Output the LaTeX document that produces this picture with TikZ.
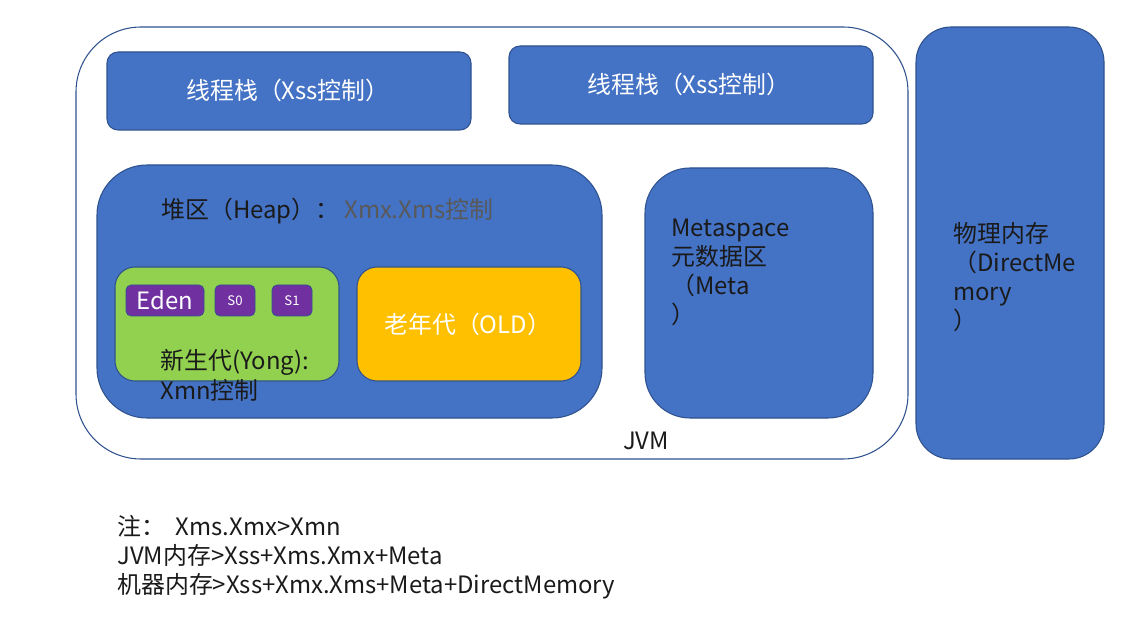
\documentclass[tikz,border=0pt]{standalone}
\usepackage{fontspec}
\setmainfont{Noto Sans CJK SC}
\usetikzlibrary{positioning}
\definecolor{boxblue}{HTML}{4472C4}
\definecolor{edgeblue}{HTML}{2F528F}
\definecolor{younggreen}{HTML}{92D050}
\definecolor{oldgold}{HTML}{FFC000}
\definecolor{edenpurple}{HTML}{7030A0}
\definecolor{notegray}{HTML}{595959}
\definecolor{inkblack}{HTML}{1A1A1A}

\begin{document}
\begin{tikzpicture}[x=0.02cm, y=-0.02cm,
  blk/.style={fill=boxblue, draw=edgeblue, line width=0.6pt},
  txt/.style={font=\fontsize{13.6}{16}\selectfont, inner sep=0pt, anchor=base west, color=inkblack},
  small/.style={font=\fontsize{7.5}{9}\selectfont, inner sep=0pt, color=white}]
  \useasboundingbox (0,0) rectangle (1148,641);
  % JVM outline
  \draw[draw=edgeblue, fill=white, line width=0.6pt, rounded corners=1.3cm] (76,27) rectangle (908,459);
  \node[txt, anchor=center] (jvm) at (646,441) {JVM};
  % thread stacks
  \draw[blk, rounded corners=0.22cm] (107,52) rectangle (471,130);
  \draw[blk, rounded corners=0.22cm] (509,46) rectangle (873,124);
  \node[txt, color=white] (stackA) at (186,100) {线程栈（Xss控制）};
  \node[txt, color=white] (stackB) at (587,94) {线程栈（Xss控制）};
  % heap
  \draw[blk, rounded corners=1cm] (97,165) rectangle (602,418);
  \node[txt] (heap) at (161,219) {堆区（Heap）：};
  \node[txt, color=notegray] (heapctl) at (344,219) {Xmx.Xms控制};
  % young generation
  \draw[fill=younggreen, draw=edgeblue, line width=0.6pt, rounded corners=0.4cm] (115,267) rectangle (339,381);
  \draw[fill=edenpurple, draw=edgeblue, line width=0.4pt, rounded corners=0.1cm] (126,285) rectangle (204,316);
  \draw[fill=edenpurple, draw=edgeblue, line width=0.4pt, rounded corners=0.1cm] (215,285) rectangle (255,316);
  \draw[fill=edenpurple, draw=edgeblue, line width=0.4pt, rounded corners=0.1cm] (272,285) rectangle (312,316);
  \node[txt, anchor=center, color=white] (eden) at (165,300.5) {Eden};
  \node[small] (szero) at (235,300.5) {S0};
  \node[small] (sone) at (292,300.5) {S1};
  \node[txt] (young) at (160,370) {新生代(Yong):};
  \node[txt] (youngctl) at (160,399) {Xmn控制};
  % old generation
  \draw[fill=oldgold, draw=edgeblue, line width=0.6pt, rounded corners=0.4cm] (357,267) rectangle (581,381);
  \node[txt, color=white] (old) at (384,334) {老年代（OLD）};
  % metaspace
  \draw[blk, rounded corners=0.9cm] (645,168) rectangle (873,418);
  \node[txt] (metaA) at (671,237) {Metaspace};
  \node[txt] (metaB) at (671,266) {元数据区};
  \node[txt] (metaC) at (671,295) {（Meta};
  \node[txt] (metaD) at (671,324) {）};
  % physical memory
  \draw[blk, rounded corners=0.7cm] (916,27) rectangle (1104,459);
  \node[txt] (physA) at (953,243) {物理内存};
  \node[txt] (physB) at (953,272) {（DirectMe};
  \node[txt] (physC) at (953,301) {mory};
  \node[txt] (physD) at (953,330) {）};
  % notes
  \node[txt] (noteA) at (117,535) {注：\ \ Xms.Xmx>Xmn};
  \node[txt] (noteB) at (117,564) {JVM内存>Xss+Xms.Xmx+Meta};
  \node[txt] (noteC) at (117,593) {机器内存>Xss+Xmx.Xms+Meta+DirectMemory};
\end{tikzpicture}
\end{document}
